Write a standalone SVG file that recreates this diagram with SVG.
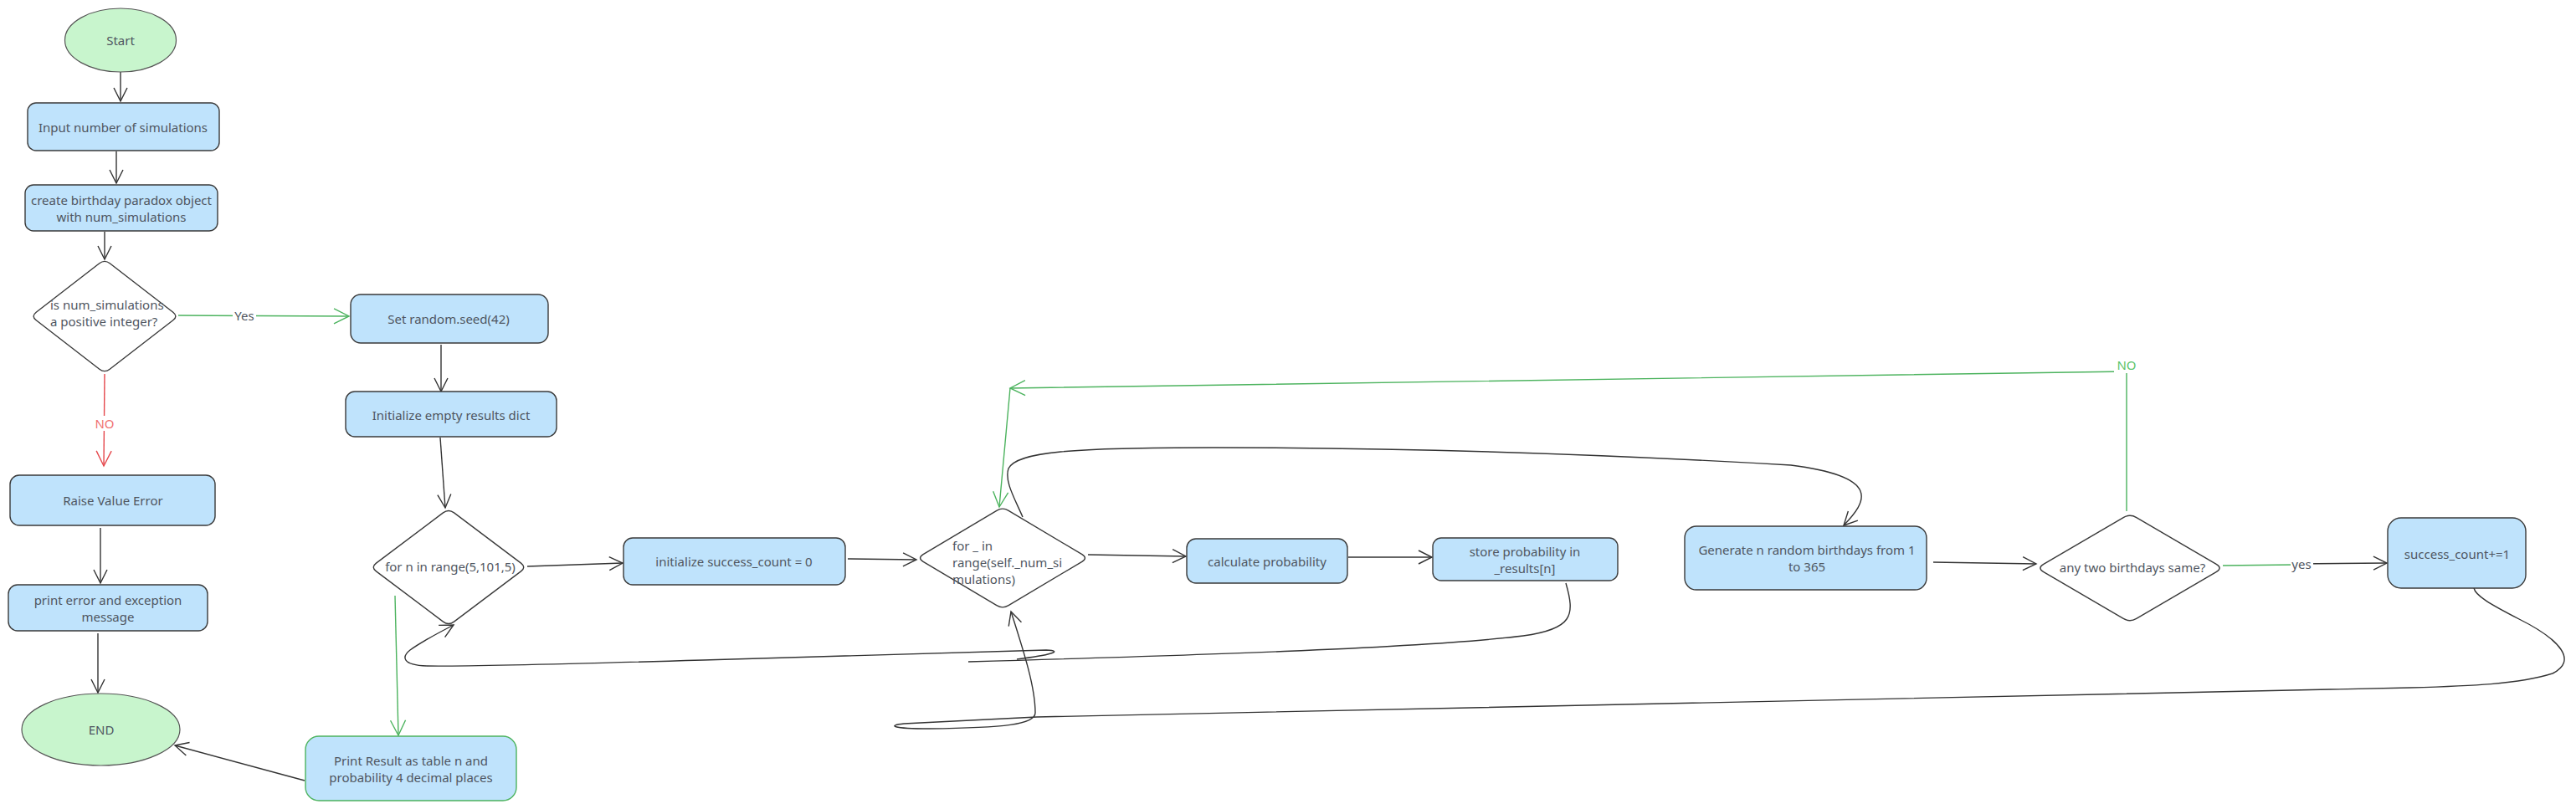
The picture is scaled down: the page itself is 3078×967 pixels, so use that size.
<svg xmlns="http://www.w3.org/2000/svg" width="3078" height="967" viewBox="0 0 3078 967">
<style>
  .box { fill: #bfe3fc; stroke: #3a3a3a; stroke-width: 1.4; }
  .term { fill: #c8f5cd; stroke: #555; stroke-width: 1.2; }
  .dia { fill: #ffffff; stroke: #3a3a3a; stroke-width: 1.4; }
  .t { font-family: "Noto Sans", "Open Sans", sans-serif; font-size: 15px; fill: #4f5661; text-anchor: middle; dominant-baseline: central; }
  .tl { font-family: "Noto Sans", "Open Sans", sans-serif; font-size: 15px; fill: #4f5661; dominant-baseline: central; }
  .e { fill: none; stroke: #333; stroke-width: 1.4; }
  .g { fill: none; stroke: #4cb35e; stroke-width: 1.4; }
  .r { fill: none; stroke: #e5484d; stroke-width: 1.4; }
  .lbl { font-family: "Noto Sans", "Open Sans", sans-serif; font-size: 15px; text-anchor: middle; dominant-baseline: central; }
</style>
<defs>
  <marker id="ah" markerWidth="18" markerHeight="18" refX="16" refY="8" orient="auto" markerUnits="userSpaceOnUse" overflow="visible">
    <path d="M0,0 L16,8 L0,16" fill="none" stroke="#333" stroke-width="1.4"/>
  </marker>
  <marker id="ahg" markerWidth="18" markerHeight="18" refX="18" refY="9" orient="auto" markerUnits="userSpaceOnUse" overflow="visible">
    <path d="M0,0 L18,9 L0,18" fill="none" stroke="#4cb35e" stroke-width="1.4"/>
  </marker>
  <marker id="ahr" markerWidth="18" markerHeight="18" refX="18" refY="9" orient="auto" markerUnits="userSpaceOnUse" overflow="visible">
    <path d="M0,0 L18,9 L0,18" fill="none" stroke="#e5484d" stroke-width="1.4"/>
  </marker>
</defs>
<rect width="3078" height="967" fill="#ffffff"/>

<g id="connectors">
  <path class="e" d="M144,86 L144,121" marker-end="url(#ah)"/>
  <path class="e" d="M139,181 L139,219" marker-end="url(#ah)"/>
  <path class="e" d="M125,277 L125,310" marker-end="url(#ah)"/>
  <path class="g" d="M213,377 L417,378" marker-end="url(#ahg)"/>
  <path class="r" d="M125,447 L124,557" marker-end="url(#ahr)"/>
  <path class="e" d="M120,631 L120,697" marker-end="url(#ah)"/>
  <path class="e" d="M117,757 L117,828" marker-end="url(#ah)"/>
  <path class="e" d="M527,412 L527,468" marker-end="url(#ah)"/>
  <path class="e" d="M526,523 L532,607" marker-end="url(#ah)"/>
  <path class="e" d="M630,677 L744,673" marker-end="url(#ah)"/>
  <path class="e" d="M1013,668 L1095,669" marker-end="url(#ah)"/>
  <path class="e" d="M1300,663 L1417,665" marker-end="url(#ah)"/>
  <path class="e" d="M1611,666 L1711,666" marker-end="url(#ah)"/>
  <path class="e" d="M1871,697 C1882,735 1880,752 1820,760 C1700,775 1400,784 1157,791"/>
  <path class="e" d="M1215,788 C1255,783 1272,778 1250,777 L840,789 C700,793 560,797 510,796 C480,795 480,785 490,777 C505,766 525,756 542,747" marker-end="url(#ah)"/>
  <path class="e" d="M1222,618 C1212,595 1200,575 1205,560 C1215,540 1280,535 1450,535 C1700,535 1950,545 2140,556 C2250,570 2230,600 2203,628" marker-end="url(#ah)"/>
  <path class="e" d="M2310,672 L2433,674" marker-end="url(#ah)"/>
  <path class="g" d="M2656,676 L2742,675"/>
  <path class="e" d="M2742,674 L2852,673" marker-end="url(#ah)"/>
  <path class="g" d="M2541,611 L2541,444 L1207,464" marker-end="url(#ahg)"/>
  <path class="g" d="M1207,464 L1194,606" marker-end="url(#ahg)"/>
  <path class="e" d="M2956,703 C2958,712 2975,722 3010,740 C3060,765 3080,790 3050,805 C3010,818 2950,820 2880,822 L1239,857 L1080,865 C1060,867 1065,871 1110,871 C1200,870 1237,866 1237,852 C1237,820 1222,775 1208,731" marker-end="url(#ah)"/>
  <path class="g" d="M472,712 L476,879" marker-end="url(#ahg)"/>
  <path class="e" d="M364,933 L209,891" marker-end="url(#ah)"/>
  <rect x="278" y="369" width="28" height="16" fill="#fff"/>
  <text class="lbl" x="292" y="377" fill="#4f5661">Yes</text>
  <rect x="112" y="497" width="26" height="18" fill="#fff"/>
  <text class="lbl" x="125" y="506" fill="#f07070">NO</text>
  <rect x="2526" y="426" width="30" height="20" fill="#fff"/>
  <text class="lbl" x="2541" y="436" fill="#5cc46a">NO</text>
  <rect x="2737" y="666" width="27" height="16" fill="#fff"/>
  <text class="lbl" x="2750" y="674" fill="#4f5661">yes</text>
</g>

<g id="start"><ellipse class="term" cx="144" cy="48" rx="66.5" ry="38"/><text class="t" x="144" y="48">Start</text></g>
<g id="input"><rect class="box" x="33" y="123" width="229" height="57" rx="10"/><text class="t" x="147" y="152">Input number of simulations</text></g>
<g id="create"><rect class="box" x="30" y="221" width="230" height="55" rx="10"/><text class="t" x="145" y="239">create birthday paradox object</text><text class="t" x="145" y="259">with num_simulations</text></g>
<g id="check"><path class="dia" d="M131.2,314.8 L206.8,373.2 Q213,378 206.8,382.8 L131.2,441.2 Q125,446 118.8,441.2 L43.2,382.8 Q37,378 43.2,373.2 L118.8,314.8 Q125,310 131.2,314.8 Z"/><text class="tl" x="60" y="364">is num_simulations</text><text class="tl" x="60" y="384">a positive integer?</text></g>
<g id="raise"><rect class="box" x="12" y="568" width="245" height="60" rx="11"/><text class="t" x="135" y="598">Raise Value Error</text></g>
<g id="printerr"><rect class="box" x="10" y="699" width="238" height="55" rx="11"/><text class="t" x="129" y="717">print error and exception</text><text class="t" x="129" y="737">message</text></g>
<g id="end"><ellipse class="term" cx="120.5" cy="872" rx="94.5" ry="43"/><text class="t" x="121" y="872">END</text></g>
<g id="seed"><rect class="box" x="419" y="352" width="236" height="58" rx="12"/><text class="t" x="536" y="381">Set random.seed(42)</text></g>
<g id="initresults"><rect class="box" x="413" y="468" width="252" height="54" rx="11"/><text class="t" x="539" y="496">Initialize empty results dict</text></g>
<g id="forn"><path class="dia" d="M542.5,612.9 L622.5,673.1 Q629,678 622.5,682.9 L542.5,743.1 Q536,748 529.5,743.1 L449.5,682.9 Q443,678 449.5,673.1 L529.5,612.9 Q536,608 542.5,612.9 Z"/><text class="t" x="538" y="677">for n in range(5,101,5)</text></g>
<g id="initsuccess"><rect class="box" x="745" y="643" width="265" height="56" rx="11"/><text class="t" x="877" y="671">initialize success_count = 0</text></g>
<g id="forsim"><path class="dia" d="M1205.1,610.3 L1292.9,662.7 Q1300,667 1292.9,671.3 L1205.1,723.7 Q1198,728 1190.9,723.7 L1103.1,671.3 Q1096,667 1103.1,662.7 L1190.9,610.3 Q1198,606 1205.1,610.3 Z"/><text class="tl" x="1138" y="652">for _ in</text><text class="tl" x="1138" y="672">range(self._num_si</text><text class="tl" x="1138" y="692">mulations)</text></g>
<g id="calc"><rect class="box" x="1418" y="644" width="192" height="53" rx="11"/><text class="t" x="1514" y="671">calculate probability</text></g>
<g id="store"><rect class="box" x="1712" y="643" width="221" height="51" rx="10"/><text class="t" x="1822" y="659">store probability in</text><text class="t" x="1822" y="679">_results[n]</text></g>
<g id="generate"><rect class="box" x="2013" y="629" width="289" height="76" rx="14"/><text class="t" x="2159" y="657">Generate n random birthdays from 1</text><text class="t" x="2159" y="677">to 365</text></g>
<g id="same"><path class="dia" d="M2552.8,618.6 L2648.2,674.4 Q2656,679 2648.2,683.6 L2552.8,739.4 Q2545,744 2537.2,739.4 L2441.8,683.6 Q2434,679 2441.8,674.4 L2537.2,618.6 Q2545,614 2552.8,618.6 Z"/><text class="t" x="2548" y="678">any two birthdays same?</text></g>
<g id="success"><rect class="box" x="2853" y="619" width="165" height="84" rx="16"/><text class="t" x="2936" y="662">success_count+=1</text></g>
<g id="printresult"><rect class="box" x="365" y="880" width="252" height="77" rx="16" style="stroke:#4cb35e"/><text class="t" x="491" y="909">Print Result as table n and</text><text class="t" x="491" y="929">probability 4 decimal places</text></g>
</svg>
